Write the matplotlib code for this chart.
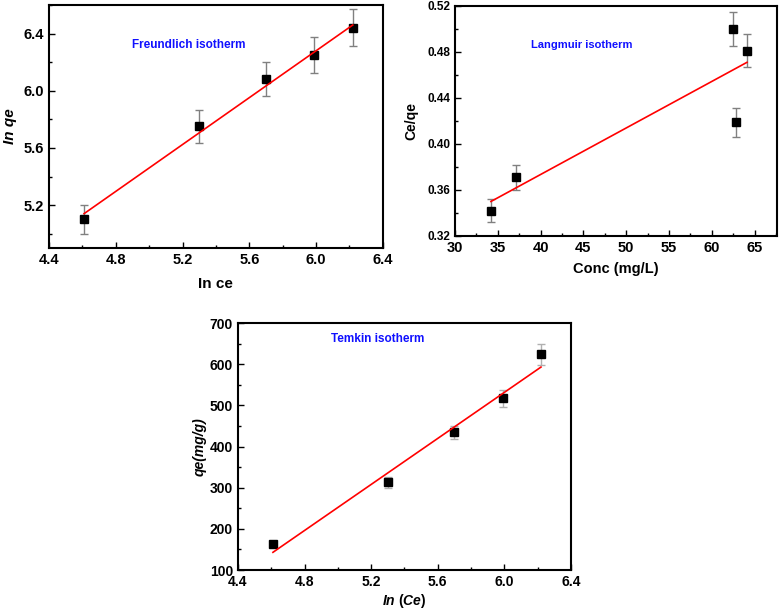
import matplotlib
matplotlib.use("Agg")
import matplotlib.pyplot as plt
from matplotlib.ticker import AutoMinorLocator

plt.rcParams['font.family'] = ['Liberation Sans', 'DejaVu Sans']
plt.rcParams['font.weight'] = 'bold'
plt.rcParams['mathtext.fontset'] = 'custom'
plt.rcParams['mathtext.it'] = 'Liberation Sans:italic:bold'
plt.rcParams['mathtext.rm'] = 'Liberation Sans:bold'
plt.rcParams['mathtext.bf'] = 'Liberation Sans:bold'

# Freundlich
fr_x = [4.61, 5.30, 5.70, 5.99, 6.22]
fr_y = [5.10, 5.75, 6.08, 6.25, 6.44]
fr_err = [0.10, 0.115, 0.12, 0.125, 0.13]
fr_fit_x = [4.61, 6.22]
fr_fit_y = [5.14, 6.46]

# Langmuir
la_x = [34.2, 37.1, 62.5, 62.8, 64.1]
la_y = [0.342, 0.371, 0.500, 0.419, 0.481]
la_err = [0.010, 0.011, 0.015, 0.0125, 0.0145]
la_fit_x = [34.2, 64.1]
la_fit_y = [0.350, 0.471]

# Temkin
te_x = [4.61, 5.30, 5.70, 5.99, 6.22]
te_y = [163, 313, 435, 517, 624]
te_err = [8, 14, 16, 20, 25]
te_fit_x = [4.61, 6.22]
te_fit_y = [143, 593]

fig = plt.figure(figsize=(7.8, 6.09), dpi=100)

def style(ax, xfs=9, yfs=9):
    for s in ax.spines.values():
        s.set_linewidth(1.5)
    ax.tick_params(which='both', direction='in', top=False, right=False, width=1.0)
    ax.tick_params(axis='x', labelsize=xfs)
    ax.tick_params(axis='y', labelsize=yfs)
    ax.tick_params(which='major', length=4)
    ax.tick_params(which='minor', length=2.5)
    ax.xaxis.set_minor_locator(AutoMinorLocator(2))
    ax.yaxis.set_minor_locator(AutoMinorLocator(2))
    for lab in ax.get_xticklabels() + ax.get_yticklabels():
        lab.set_fontweight('bold')

def draw(ax, x, y, err, fx, fy, ecol='#808080'):
    ax.errorbar(x, y, yerr=err, fmt='none', ecolor=ecol, elinewidth=1.0, capsize=3, capthick=1.0, zorder=2)
    ax.plot(x, y, 's', color='black', markersize=5.5, zorder=3)
    ax.plot(fx, fy, '-', color='red', linewidth=1.2, zorder=4)

# Panel 1
ax1 = fig.add_axes([0.0628, 0.5928, 0.428, 0.399])
draw(ax1, fr_x, fr_y, fr_err, fr_fit_x, fr_fit_y)
ax1.set_xlim(4.4, 6.4)
ax1.set_ylim(4.9, 6.6)
ax1.set_xticks([4.4, 4.8, 5.2, 5.6, 6.0, 6.4])
ax1.set_xticklabels(['4.4', '4.8', '5.2', '5.6', '6.0', '6.4'])
ax1.set_yticks([5.2, 5.6, 6.0, 6.4])
ax1.set_yticklabels(['5.2', '5.6', '6.0', '6.4'])
style(ax1, 10.5, 10.5)
ax1.set_xlabel('In ce', fontsize=11, fontweight='bold', labelpad=7)
ax1.set_ylabel('In qe', fontsize=11, fontweight='bold', fontstyle='italic', labelpad=5)
ax1.text(0.42, 0.835, 'Freundlich isotherm', transform=ax1.transAxes, color='#1010ff',
         fontsize=8.5, fontweight='bold', ha='center', va='center')

# Panel 2
ax2 = fig.add_axes([0.5833, 0.6125, 0.4128, 0.3777])
draw(ax2, la_x, la_y, la_err, la_fit_x, la_fit_y)
ax2.set_xlim(30, 67.6)
ax2.set_ylim(0.32, 0.52)
ax2.set_xticks([30, 35, 40, 45, 50, 55, 60, 65])
ax2.set_yticks([0.32, 0.36, 0.40, 0.44, 0.48, 0.52])
ax2.set_yticklabels(['0.32', '0.36', '0.40', '0.44', '0.48', '0.52'])
style(ax2, 10.5, 8.5)
ax2.set_xlabel('Conc (mg/L)', fontsize=10.5, fontweight='bold', labelpad=5)
ax2.set_ylabel('Ce/qe', fontsize=10, fontweight='bold', labelpad=6)
ax2.text(0.395, 0.83, 'Langmuir isotherm', transform=ax2.transAxes, color='#1010ff',
         fontsize=8, fontweight='bold', ha='center', va='center')

# Panel 3
ax3 = fig.add_axes([0.3051, 0.064, 0.4269, 0.4056])
draw(ax3, te_x, te_y, te_err, te_fit_x, te_fit_y, ecol='#b0b0b0')
ax3.set_xlim(4.4, 6.4)
ax3.set_ylim(100, 700)
ax3.set_xticks([4.4, 4.8, 5.2, 5.6, 6.0, 6.4])
ax3.set_xticklabels(['4.4', '4.8', '5.2', '5.6', '6.0', '6.4'])
ax3.set_yticks([100, 200, 300, 400, 500, 600, 700])
style(ax3, 10, 10)
ax3.set_xlabel(r'$\it{In}$ (' + r'$\it{Ce}$)', fontsize=10, fontweight='bold', labelpad=2)
ax3.set_ylabel('qe(mg/g)', fontsize=10, fontweight='bold', fontstyle='italic', labelpad=2)
ax3.text(0.42, 0.935, 'Temkin isotherm', transform=ax3.transAxes, color='#1010ff',
         fontsize=8.5, fontweight='bold', ha='center', va='center')

fig.savefig('out.png', dpi=100)
